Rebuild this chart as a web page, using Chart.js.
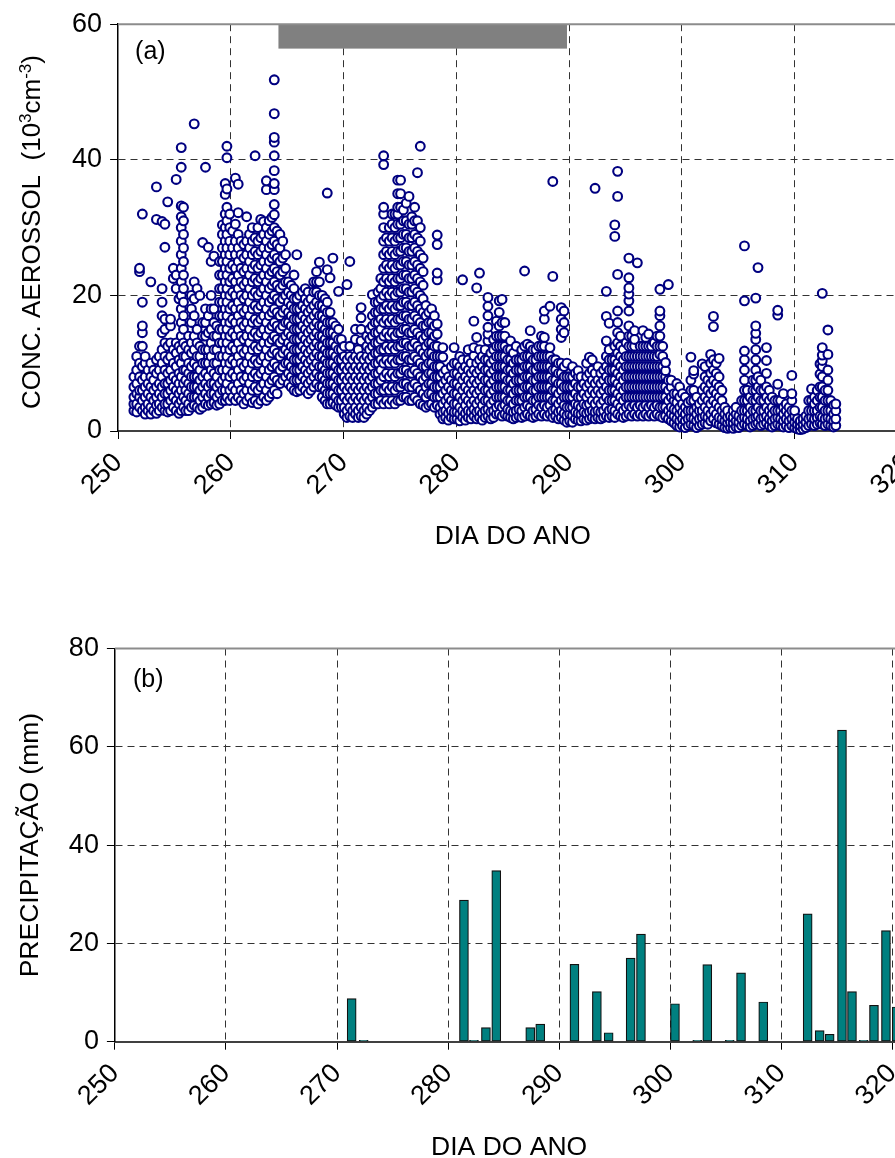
<!DOCTYPE html>
<html><head><meta charset="utf-8">
<script src="https://cdn.jsdelivr.net/npm/chart.js@4.4.1/dist/chart.umd.min.js"></script>
<style>
html,body{margin:0;padding:0;background:#fff;overflow:hidden;width:895px;height:1158px;}
#wrapA{position:absolute;left:0;top:0;width:940px;height:560px;}
#wrapB{position:absolute;left:0;top:580px;width:940px;height:600px;}
canvas{display:block;}
</style></head><body>
<div id="wrapA"><canvas id="chartA" width="940" height="560"></canvas></div>
<div id="wrapB"><canvas id="chartB" width="940" height="600"></canvas></div>
<script>
// ---------- tick labels ----------
const dayTicks = [250, 260, 270, 280, 290, 300, 310, 320];
const concTicks = [0, 20, 40, 60];
const rainTicks = [0, 20, 40, 60, 80];
// grey bar in panel (a): [start day, end day, low, high]
const campaignBand = [264.22, 289.81, 56.4, 60];

// ---------- panel (b): daily precipitation ----------
const rainDays = [271.32, 272.40, 281.43, 282.33, 283.41, 284.34, 287.40, 288.30, 291.38, 293.40,
  294.46, 296.44, 297.37, 300.43, 302.44, 303.34, 305.36, 306.38, 308.38, 312.38,
  313.46, 314.36, 315.47, 316.37, 317.42, 318.35, 319.43, 320.40];
const rainMm = [8.75, 0.3, 28.8, 0.3, 2.85, 34.8, 2.85, 3.6, 15.75, 10.2,
  1.83, 17.0, 21.9, 7.73, 0.3, 15.7, 0.3, 14.0, 8.08, 26.0,
  2.24, 1.5, 63.4, 10.2, 0.3, 7.4, 22.6, 7.06];

// ---------- panel (a): aerosol concentration, rows = [day, values...] ----------
const aerosol_251_256 = [
[251.40,3,4,5,6.5,8],
[251.65,2.8,4,5.5,7,9,11],
[251.90,3.5,5,6,8,10,12.5,23.5,24],
[252.15,3,4.5,6,7.5,9.5,12.5,14.5,15.5,19,32],
[252.40,2.5,3.5,5,6.5,8,10,11],
[252.65,3,4,5.5,7,9],
[252.90,2.5,3.5,5,6.5,8,10,22],
[253.15,3,4.5,6,7.5,9],
[253.40,2.6,3.8,5,6.5,8.5,10.5,31.2,36],
[253.65,3,4,5.5,7,9,11],
[253.90,3.5,5,6.5,8,10,12,14.5,17,19,21,30.9],
[254.15,3,4,5.5,7,9,11,13,15,16.5,27.1,30.5],
[254.40,2.8,4,5.5,7,8.5,10.5,12.5,33.8],
[254.65,3,4.5,6,7.5,9,11,13,15.5,16.5],
[254.90,3.5,5,6.5,8,10,12,22.5,24],
[255.15,3,4.5,6,7.5,9.5,11.5,13,21,23,37.1],
[255.40,2.6,4,5.5,7,8.5,10.5,12.5,19.5],
[255.60,3,4.5,6,8,10,12,14,16,18,20,22,24,26,28,30,31.6,33.2,38.9,41.8],
[255.80,3.5,5,7,9,11,13,15,17,19,21,23,25,27,29,31,33],
[256.00,3,4.5,6,7.5,9,11,12.5]
];
const aerosol_256_261 = [
[256.25,3,4,5.5,7,8.5,10,12,14],
[256.50,3.5,5,6.5,8,9.5,11.5,13,16,18,20],
[256.75,3.8,5,6.5,8,10,12,14,17,19.5,22,45.3],
[257.00,3.5,5,6.5,8,9.5,11,13,15,21],
[257.25,3.2,4.5,6,7.5,9,11,12.5,20],
[257.50,3.5,5,6.5,8,10,12,14,16,27.8],
[257.75,4,5.5,7,8.5,10,12,14,16,18,38.9],
[258.00,3.8,5,6.5,8,10,12,14.5,17,27.1],
[258.25,4,5.5,7,9,11,13,15,18,20,25],
[258.50,4.2,5.5,7,8.5,10,12,14,16,18,25.8],
[258.75,3.8,5,6.5,8,10,12,14,15.5],
[259.00,4,5.5,7,9,11,13,15,17,19,21,23,25],
[259.25,4.5,6,7.5,9,11,13,15,17,19,21,23,25,27,29,30.4],
[259.50,4.5,6,8,10,12,14,16,18,20,22,24,26,28,30,32,34.9,36.5],
[259.65,5,7,9,11,13,15,17,19,21,23,25,27,29,31,33,35.7,40.3,42],
[259.90,4.5,6,8,10,12,14,16,18,20,22,24,26,28,30,32],
[260.15,5,6.5,8.5,10.5,12.5,14.5,16.5,18.5,20.5,22.5,24.5,27,29.5],
[260.40,4.5,6,8,10,12,14,16,18,20,22,24,26,28,30.5,37.3],
[260.65,5,7,9,11,13,15,17,19,21,23,25,27,29,32.2,36.4],
[260.90,4.5,6,8,10,12,14,16,18,20,22,24,26,28]
];
const aerosol_261_266 = [
[261.15,4,5.5,7.5,9.5,11.5,13.5,15.5,17.5,19.5,21.5,23.5,25.5,27.5],
[261.40,4.5,6,8,10,12,14,16,18,20,22,24,26,28,31.6],
[261.65,5,7,9,11,13,15,17,19,21,23,25,27,29],
[261.90,4.2,6,8,10,12,14,16,18,20,22,24,26,28,30],
[262.15,4.5,6.5,8.5,10.5,12.5,14.5,16.5,18.5,20.5,22.5,24.5,26.5,28.5,40.6],
[262.40,4,6,8,10,12,14,16,18,20,22,24,26,28,30],
[262.65,4.5,6.5,8.5,10.5,12.5,14.5,16.5,18.5,20.5,22.5,24.5,26.5,28.5,31.2],
[262.90,5,7,9,11,13,15,17,19,21,23,25,27,29,30.9],
[263.15,4.5,6,8,10,12,14,16,18,20,22,24,26,28,30,35.6,36.9],
[263.40,5,7,9,11,13,15,17,19,21,23,25,27,29,31],
[263.65,5.5,7.5,9.5,11.5,13.5,15.5,17.5,19.5,21.5,23.5,25.5,27.5,29.5,31.5],
[263.85,6,8,10,12,14,16,18,20,22,24,26,28,30,31.9,33.4,35.6,36.5,38.4,40.6,42.6,43.3,46.8,51.8],
[264.10,5.5,7.5,9.5,11.5,13.5,15.5,17.5,19.5,21.5,23.5,25.5,27.5,29.5],
[264.35,7,9,11,13,15,17,19,21,23,25,27,29],
[264.60,7.5,9.5,11.5,13.5,15.5,17.5,19.5,21.5,23.5,25.5,28],
[264.85,8,10,12,14,16,18,20,22,24,26],
[265.10,7,8.5,10,11.5,13,14.5,16,17.5,19,20.5,22],
[265.35,6.5,8,9.5,11,12.5,14,15.5,17,18.5,20,21.5],
[265.60,6,7.5,9,10.5,12,13.5,15,16.5,18,19.5,21,23],
[265.85,5.8,7.5,9,10.5,12,13.5,15,16.5,18,19.5,26]
];
const aerosol_266_271 = [
[266.10,6,7.5,9,10.5,12,13.5,15,16.5,18,20],
[266.35,6.5,8,9.5,11,12.5,14,15.5,17,18.5,20.5],
[266.60,6,7.5,9,10.5,12,13.5,15,16.5,18,19.5,21],
[266.85,5.5,7,8.5,10,11.5,13,14.5,16,17.5,19,20.5],
[267.10,6,7.5,9,10.5,12,13.5,15,16.5,18,19.5],
[267.35,6.5,8,9.5,11,12.5,14,15.5,17,18.5,20.5,22],
[267.60,7,8.5,10,11.5,13,14.5,16,17.5,19,20.5,22,23.5],
[267.85,6.5,8,9.5,11,12.5,14,15.5,17,18.5,20,22,24.9],
[268.10,5,6.5,8,9.5,11,12.5,14,15.5,17,18.5,20],
[268.35,4.5,6,7.5,9,10.5,12,13.5,15,16.5,18,19.5],
[268.55,4,5.5,7,8.5,10,11.5,13,14.5,16,17.5,19,23.8,35.1],
[268.80,4,5.5,7,8.5,10,11.5,13,14.5,16,17.5,22.6],
[269.05,4.2,5.5,7,8.5,10,11.5,13,14.5,16,25.5],
[269.30,3.8,5,6.5,8,9.5,11,12.5,14,15.5],
[269.55,3.5,4.5,6,7.5,9,10.5,12,13.5,15,20.6],
[269.80,3.5,4.5,6,7.5,9,10.5,12,13.5],
[270.05,2.5,3.5,5,6.5,8,9.5,11,12.5],
[270.30,2,3,4.5,6,7.5,9,10.5,21.6],
[270.55,2.2,3.5,5,6.5,8,9.5,11,12.5,25],
[270.80,2,3,4.5,6,7.5,9,10.5]
];
const aerosol_271_276 = [
[271.05,2.5,3.5,5,6.5,8,9.5,11,13.5,15],
[271.30,2,3,4.5,6,7.5,9,10.5,12],
[271.55,2.2,3.5,5,6.5,8,9.5,11,13.3,15,16.7,18.2],
[271.80,2,3,4.5,6,7.5,9,10.5],
[272.05,2.5,3.5,5,6.5,8,9.5,11,12.5,14],
[272.30,3,4.5,6,7.5,9,10.5,12,13.5,15],
[272.55,3.5,5,6.5,8,9.5,11,12.5,14,15.5,17,20.1],
[272.80,4,5.5,7,8.5,10,11.5,13,14.5,16,17.5,19],
[273.05,4,5.5,7,8.5,10,11.5,13,14.5,16,17.5,19,20.5],
[273.30,4.5,6,7.5,9,10.5,12,13.5,15,16.5,18,19.5,21,22.5],
[273.55,4,6,8,10,12,14,16,18,20,22,24,26,28,30,32,33,39.3,40.6],
[273.80,4.5,6.5,8.5,10.5,12.5,14.5,16.5,18.5,20.5,22.5,24.5,26.5,28.5],
[274.05,4,6,8,10,12,14,16,18,20,22,24,26,28,30],
[274.30,4.5,6.5,8.5,10.5,12.5,14.5,16.5,18.5,20.5,22.5,24.5,26.5,28.5,30.5,32],
[274.55,4,6,8,10,12,14,16,18,20,22,24,26,28,30,32],
[274.80,4.5,6.5,8.5,10.5,12.5,14.5,16.5,18.5,20.5,22.5,24.5,26.5,28.5,30.5,32,33,35,37],
[275.05,4.5,6.5,8.5,10.5,12.5,14.5,16.5,18.5,20.5,22.5,24.5,26.5,28.5,30.5,33,35,37],
[275.30,5,7,9,11,13,15,17,19,21,23,25,27,29,31,32.6],
[275.55,5,7,9,11,13,15,17,19,21,23,25,27,29,31,33.6],
[275.80,4.5,6.5,8.5,10.5,12.5,14.5,16.5,18.5,20.5,22.5,24.5,26.5,28.5,30.5,34.6]
];
const aerosol_276_281 = [
[276.05,4.5,6.5,8.5,10.5,12.5,14.5,16.5,18.5,20.5,22.5,24.5,26.5,28.5,30.5,31.6],
[276.30,5,7,9,11,13,15,17,19,21,23,25,27,29,31,33],
[276.55,4.5,6.5,8.5,10.5,12.5,14.5,16.5,18.5,20.5,22.5,24.5,26.5,28.5,31,38.1],
[276.80,4,6,8,10,12,14,16,18,20,22,24,26,28,30,42],
[277.05,3.8,5.5,7.5,9.5,11.5,13.5,15.5,17.5,19.5,21.5,23.5,25.5],
[277.30,3.5,5,6.5,8,9.5,11,12.5,14,15.5,17,18.5],
[277.55,3.8,5.5,7,8.5,10,11.5,13,14.5,16,17.5],
[277.80,4,5.5,7,8.5,10,11.5,13,14.5,16,18],
[278.05,3.5,5,6.5,8,9.5,11,12.5,14,15.5,17],
[278.30,3.8,5,6.5,8,9.5,11,12.5,14.3,15.8,22.3,23.3,27.5,28.9],
[278.55,2.5,3.5,5,6.5,8,9.5,11],
[278.80,1.8,2.8,4,5.5,7,8.5,10.9,12.3],
[279.05,2,3,4.5,6,7.5,9],
[279.30,1.6,2.6,3.8,5,6.5,8],
[279.55,2,3,4.5,6,7.5,9.5],
[279.80,1.8,2.8,4,5.5,7,8.5,10,12.3],
[280.05,1.8,2.8,4,5.5,7,8.5,10],
[280.30,1.5,2.5,3.5,5,6.5,8,9.5,11],
[280.55,2,3,4.5,6,7.5,9,10.5,22.3],
[280.80,1.6,2.6,3.8,5,6.5,8,9.5]
];
const aerosol_281_286 = [
[281.05,2,3,4.5,6,7.5,9,10.5,12],
[281.30,1.8,2.8,4,5.5,7,8.5,10],
[281.55,2.2,3.2,4.5,6,7.5,9,11.1,12.3,16.2],
[281.80,1.8,2.8,4,5.5,7,8.5,10,13.8,21.1],
[282.05,2,3,4.5,6,7.5,9,10.5,12,23.3],
[282.30,1.6,2.6,3.8,5,6.5,8,9.5,11],
[282.55,2,3,4.5,6,7.5,9,10.5,12],
[282.80,2.2,3.2,4.5,6,7.5,9,10.5,13.3,14.3,15.3,17,18.4,19.7],
[283.05,1.8,2.8,4,5.5,7,8.5,10,11.5],
[283.30,2,3,4.5,6,7.5,9,10.5,12,13.5],
[283.55,2.5,3.5,5,6.5,8,9.5,11,12.5,14,16.2],
[283.80,2.5,3.8,5,6.5,8,9.5,11,12.5,14,15.5,17.5,19.2],
[284.05,2.2,3.5,5,6.5,8,9.5,11,12.5,14,16,19.4],
[284.30,2.5,3.8,5,6.5,8,9.5,11,12.5,14,16],
[284.55,2.2,3.2,4.5,6,7.5,9,10.5,12],
[284.80,2,3,4.5,6,7.5,9,10.5,12,13.3],
[285.05,1.8,2.8,4,5.5,7,8.5,10,11.5],
[285.30,2,3,4.5,6,7.5,9,10.5,12.5],
[285.55,2.2,3.2,4.5,6,7.5,9,10.5],
[285.80,2,3,4.5,6,7.5,9,10.5,12]
];
const aerosol_286_291 = [
[286.05,2.2,3.5,5,6.5,8,9.5,11,12.5,23.6],
[286.30,2.5,3.8,5,6.5,8,9.5,11,12.8],
[286.55,2.2,3.5,5,6.5,8,9.5,11,12.5,14.8],
[286.80,2,3,4.5,6,7.5,9,10.5,12],
[287.05,2.2,3.2,4.5,6,7.5,9,10.5,12],
[287.30,2.5,3.8,5,6.5,8,9.5,11,12.5],
[287.55,2.2,3.5,5,6.5,8,9.5,11,12.5,14],
[287.80,2.5,3.8,5,6.5,8,9.5,11,12.5,13.8,16.5,17.7],
[288.05,2.2,3.5,5,6.5,8,9.5,11],
[288.30,2.5,3.8,5,6.5,8,9.5,11,12.3,18.4],
[288.55,2,3,4.5,6,7.5,9,10.5,22.8,36.8],
[288.80,2.2,3.2,4.5,6,7.5,9,10.5],
[289.05,1.8,2.8,4,5.5,7,8.5,10],
[289.30,2,3,4.5,6,7,8.5,10,13.8,15,16.5,18.2],
[289.55,1.6,2.6,3.8,5,6.5,8,9.5,14.5,16,17.7],
[289.80,1.3,2.3,3.5,5,6.5,8,10],
[290.05,1.5,2.5,3.5,5,6.5,8],
[290.30,1.3,2.3,3.5,5,6.5,8,9.5],
[290.55,1.8,2.8,4,5.5,7,8.5],
[290.80,1.6,2.6,3.8,5,6.5,8,8.9]
];
const aerosol_291_296 = [
[291.05,1.5,2.5,3.5,5,6.5,8],
[291.30,1.8,2.8,4,5.5,7],
[291.55,1.6,2.6,3.8,5,6.5,8,10],
[291.80,1.8,2.8,4,5.5,7,8.5,10.9],
[292.05,2,3,4.5,6,7.5,9,10.5],
[292.30,1.8,2.8,4,5.5,7,8.5,35.8],
[292.55,2,3,4.5,6,7.5,9.5],
[292.80,1.8,2.8,4,5.5,7,8.5],
[293.05,2,3,4.5,6,7.5,9],
[293.30,2.2,3.5,5,6.5,8,9.5,11,13.3,16.9,20.6],
[293.55,2,3,4.5,6,7.5,9,10.5,12,15.9],
[293.80,2.2,3.2,4.5,6,7.5,9,10.5],
[294.05,2,3,4.5,6,7.5,9,10.5,12.5,28.7,30.4],
[294.30,2.5,4,5.5,7,8.5,10,11.5,13,14.5,16,17.7,23.1,34.6,38.3],
[294.55,2.2,3.5,5,6.5,8,9.5,11,12.5,14],
[294.80,2,3,4.5,6,7.5,9,10.5,12],
[295.05,2.2,3.5,5,6.5,8,9.5,11,13],
[295.30,2.5,3.8,5,6.5,8,9.5,11,12.5,14,15.5,17.7,19.2,20.2,21.1,22.6,25.5],
[295.55,2.2,3.5,5,6.5,8,9.5,11,12.5,14],
[295.80,2.5,3.8,5,6.5,8,9.5,11,12.5,13.5,14.8]
];
const aerosol_296_301 = [
[296.05,2.2,3.5,5,6.5,8,9.5,11,24.8],
[296.30,2.5,3.8,5,6.5,8,9.5,11,12.5],
[296.55,2.2,3.5,5,6.5,8,9.5,11,12.5,14.8],
[296.80,2.5,3.8,5,6.5,8,9.5,11,12.5,13.8],
[297.05,2.2,3.5,5,6.5,8,9.5,11,12.5,14.3],
[297.30,2.5,3.8,5,6.5,8,9.5,11,12.5],
[297.55,2.2,3.5,5,6.5,8,9.5,11,13],
[297.80,2.5,3.8,5,6.5,8,9.5,11,12.5,14],
[298.05,2.2,3.5,5,6.5,8,9.5,11.3,12.5,14,15.5,17,17.7,20.9],
[298.30,2,3.5,5,6.5,8,9.5,11,12.5],
[298.55,2.2,3.5,5,6.5,8,8.9,10.1],
[298.80,1.8,3,4.5,6,7.5,21.6],
[299.05,1.5,2.5,3.5,5,6.5,7.5],
[299.30,1.2,2.2,3.2,4.5,5.5],
[299.55,0.8,1.8,3,4.2,5.5,7],
[299.80,0.6,1.5,2.5,3.5,5,6.5],
[300.05,0.8,1.8,2.8,4,5.5],
[300.30,0.5,1.5,2.5,3.5,5],
[300.55,0.8,1.8,3,4.2],
[300.80,1,2,3,4.5,6,7.5,10.9]
];
const aerosol_301_307 = [
[301.05,0.8,1.8,3,4.5,6,8.4,8.9],
[301.30,0.5,1.5,2.5,3.5,5],
[301.55,0.8,1.8,3,4],
[301.80,1,2,3,4.5,6,9.9],
[302.05,1.2,2.2,3.5,5,6.5,8,9.5],
[302.30,1,2,3,4.5,6,7.5],
[302.55,1.5,2.5,4,5.5,7,8.5,10,11.3],
[302.80,1.8,3,4.5,6,7.5,9,10.5,15.4,16.9],
[303.05,1.2,2.5,4,5.5,7,8.5,10],
[303.30,1,2,3.5,5,6.5,8,10.7],
[303.55,0.8,1.8,3,4.5,6],
[303.80,0.5,1.5,2.5,3.5],
[304.05,0.4,1.2,2,3],
[304.30,0.5,1.3,2.2],
[304.55,0.4,1.2,2,3],
[304.80,0.6,1.5,2.5,3.5],
[305.05,0.5,1.3,2.2],
[305.30,0.8,1.8,3,4.5],
[305.55,1,2,3,4.5,6,7.5,9,10.5,11.8,19.2,27.3],
[305.80,0.8,1.8,3,4.5,6],
[306.05,0.6,1.5,2.5,3.5,5],
[306.30,0.8,1.8,3,4.5,6,7.5],
[306.55,1,2,3,4.5,6,7.5,9,10.5,12,13.5,14.4,15.5,19.6],
[306.75,1.2,2.2,3.5,5,6.5,8,24.1]
];
const aerosol_307_314 = [
[307.00,0.8,1.8,3,4.5,6,7.5],
[307.25,1,2,3,4.5,6],
[307.50,1.2,2.2,3.5,5,6.5,8.5,10.4,12.3],
[307.75,0.8,1.8,3,4.5,6],
[308.00,0.6,1.5,2.5,3.5,5],
[308.25,0.8,1.8,3,4.5],
[308.50,1,2,3,4.5,6.9,17.1,17.8],
[308.75,0.8,1.8,3,4.5],
[309.00,0.6,1.5,2.5,3.5,5.5],
[309.25,0.8,1.8,3,4],
[309.50,0.5,1.5,2.5,3.5],
[309.75,0.8,1.8,3,4.5,5.5,8.2],
[310.00,0.5,1.3,2.2,3],
[310.25,0.3,1,1.8],
[310.50,0.2,0.8,1.5],
[310.75,0.3,1,1.8],
[311.00,0.5,1.3,2.2],
[311.25,0.8,1.8,3,4.5],
[311.50,1,2,3,4.5,6.2],
[311.75,0.8,1.8,3,4,5],
[312.00,1,2,3,4.5,6],
[312.25,1.2,2.2,3.5,5,6.5,8.4,9.9],
[312.45,1,2,3.5,5,6.5,8,9.5,10.4,11.2,12.3,20.3],
[312.70,0.8,1.8,3,4.5,6],
[312.95,1,2,3,4.5,6,7.5,9,11.3,14.9],
[313.20,0.8,1.8,3,4.5],
[313.45,0.6,1.5,2.5,3.8],
[313.65,0.8,1.8,3,4]
];

const aerosolSegments = [aerosol_251_256, aerosol_256_261, aerosol_261_266, aerosol_266_271,
  aerosol_271_276, aerosol_276_281, aerosol_281_286, aerosol_286_291, aerosol_291_296,
  aerosol_296_301, aerosol_301_307, aerosol_307_314];

const aerosolPoints = [];
aerosolSegments.forEach(seg => seg.forEach(row => {
  for (let i = 1; i < row.length; i++) aerosolPoints.push({x: row[0], y: row[i]});
}));
const rainPoints = rainDays.map((d, i) => ({x: d, y: rainMm[i]}));

// ---------- styling ----------
const FONT = "'Liberation Sans', Arial, Helvetica, sans-serif";
const TICK_SIZE = 27, TITLE_SIZE = 26.5;
const GRID_COLOR = '#333333';

const panelDecor = {
  id: 'panelDecor',
  beforeDatasetsDraw(chart, args, opts) {
    const {ctx, chartArea, scales} = chart;
    ctx.save();
    if (opts.band) {
      const x1 = scales.x.getPixelForValue(opts.band[0]);
      const x2 = scales.x.getPixelForValue(opts.band[1]);
      const y1 = scales.y.getPixelForValue(opts.band[3]);
      const y2 = scales.y.getPixelForValue(opts.band[2]);
      ctx.fillStyle = '#808080';
      ctx.fillRect(x1, y1, x2 - x1, y2 - y1);
    }
    ctx.strokeStyle = '#8c8c8c';
    ctx.lineWidth = 2;
    ctx.beginPath();
    ctx.moveTo(chartArea.left, chartArea.top);
    ctx.lineTo(chart.width, chartArea.top);
    ctx.stroke();
    ctx.fillStyle = '#000';
    ctx.font = '25px ' + FONT;
    ctx.textBaseline = 'middle';
    ctx.textAlign = 'left';
    ctx.fillText(opts.letter, chartArea.left + opts.letterDx, chartArea.top + opts.letterDy);
    ctx.restore();
  },
  afterDraw(chart, args, opts) {
    if (!opts.yTitle) return;
    const {ctx} = chart;
    ctx.save();
    ctx.translate(opts.yTitleX, opts.yTitleY);
    ctx.rotate(-Math.PI / 2);
    ctx.fillStyle = '#000';
    ctx.textBaseline = 'middle';
    ctx.textAlign = 'left';
    let total = 0;
    opts.yTitle.forEach(p => { ctx.font = p[1] + 'px ' + FONT; total += ctx.measureText(p[0]).width; });
    let x = -total / 2;
    opts.yTitle.forEach(p => {
      ctx.font = p[1] + 'px ' + FONT;
      ctx.fillText(p[0], x, p[2]);
      x += ctx.measureText(p[0]).width;
    });
    ctx.restore();
  }
};

function xScale(min, max, height, titlePadBottom, tickPad) {
  return {
    type: 'linear', min: min, max: max, offset: false,
    afterBuildTicks: s => { s.ticks = dayTicks.map(v => ({value: v})); },
    afterFit: s => { s.height = height; },
    ticks: {font: {family: FONT, size: TICK_SIZE}, color: '#000', minRotation: 45, maxRotation: 45,
            padding: tickPad, autoSkip: false},
    grid: {color: c => (c.tick && c.tick.value === dayTicks[0]) ? 'rgba(0,0,0,0)' : GRID_COLOR,
           lineWidth: 1, tickLength: 8, tickColor: '#000', tickWidth: 1, offset: false},
    border: {display: true, color: '#404040', width: 2, dash: [7, 5]},
    title: {display: true, text: 'DIA DO ANO', color: '#000', font: {family: FONT, size: TITLE_SIZE},
            padding: {top: 0, bottom: titlePadBottom}}
  };
}
function yScale(max, ticksArr, width, title) {
  return {
    type: 'linear', min: 0, max: max,
    afterBuildTicks: s => { s.ticks = ticksArr.map(v => ({value: v})); },
    afterFit: s => { s.width = width; },
    ticks: {font: {family: FONT, size: TICK_SIZE}, color: '#000', padding: 8},
    grid: {color: c => (c.tick && (c.tick.value === max || c.tick.value === 0)) ? 'rgba(0,0,0,0)' : GRID_COLOR,
           lineWidth: 1, tickLength: 8, tickColor: '#000', tickWidth: 1},
    border: {display: true, color: '#000', width: 1.5, dash: [7, 5]},
    title: title ? {display: true, text: title, color: '#000', font: {family: FONT, size: TITLE_SIZE},
                    padding: {top: 15, bottom: 0}} : {display: false}
  };
}

new Chart(document.getElementById('chartA'), {
  type: 'scatter',
  data: {datasets: [{
    data: aerosolPoints, pointStyle: 'circle', pointRadius: 4.4, pointBorderWidth: 2.1,
    pointBackgroundColor: '#ffffff', pointBorderColor: '#000080', showLine: false, clip: false
  }]},
  options: {
    responsive: false, animation: false, events: [],
    layout: {padding: {top: 22, right: 32.6, bottom: 0, left: 0}},
    plugins: {legend: {display: false}, tooltip: {enabled: false},
      panelDecor: {band: campaignBand, letter: '(a)', letterDx: 17, letterDy: 28,
        yTitle: [['CONC. AEROSSOL  (10', 26, 0], ['3', 17, -6], ['cm', 26, 0], ['-3', 17, -6], [')', 26, 0]],
        yTitleX: 32.6, yTitleY: 232}},
    scales: {x: xScale(250, 320, 129, 7.4, 8), y: yScale(60, concTicks, 118.1, null)}
  },
  plugins: [panelDecor]
});

new Chart(document.getElementById('chartB'), {
  type: 'bar',
  data: {datasets: [{
    data: rainPoints, backgroundColor: '#008080', borderColor: '#111111', borderWidth: 1.2,
    borderSkipped: false, barThickness: 9
  }]},
  options: {
    responsive: false, animation: false, events: [],
    layout: {padding: {top: 68.5, right: 36.6, bottom: 0, left: 0}},
    plugins: {legend: {display: false}, tooltip: {enabled: false},
      panelDecor: {band: null, letter: '(b)', letterDx: 18, letterDy: 32, yTitle: null}},
    scales: {x: xScale(250, 321, 138.3, 16.4, 8), y: yScale(80, rainTicks, 114.9, 'PRECIPITAÇÃO (mm)')}
  },
  plugins: [panelDecor]
});
</script>
</body></html>
